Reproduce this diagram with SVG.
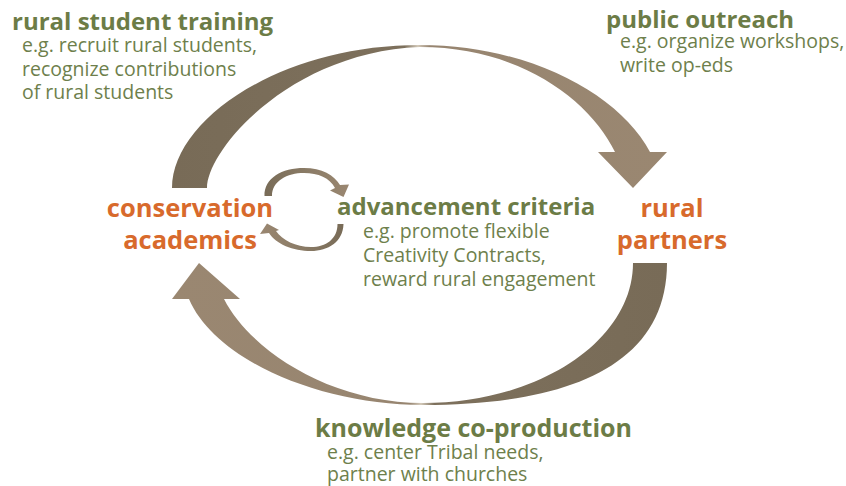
<svg xmlns="http://www.w3.org/2000/svg" width="846" height="486" viewBox="0 0 846 486">
<style>
text{font-family:"Open Sans",Lato,"Liberation Sans",sans-serif}
.t{font-weight:bold;font-size:24px;fill:#6c7c46}
.b{font-size:19.5px;fill:#6e7f4c}
.o{font-weight:bold;font-size:25.5px;fill:#d86a2c}
.k{font-size:25px}
</style>
<defs>
<linearGradient id="gTop" gradientUnits="userSpaceOnUse" x1="172" y1="0" x2="667" y2="0">
<stop offset="0" stop-color="#786b57"/><stop offset="0.47" stop-color="#7d705c"/><stop offset="0.497" stop-color="#d2c8b8"/><stop offset="0.52" stop-color="#978570"/><stop offset="1" stop-color="#9a8771"/>
</linearGradient>
<linearGradient id="gBot" gradientUnits="userSpaceOnUse" x1="667" y1="0" x2="172" y2="0">
<stop offset="0" stop-color="#786b57"/><stop offset="0.47" stop-color="#7d705c"/><stop offset="0.497" stop-color="#d2c8b8"/><stop offset="0.52" stop-color="#978570"/><stop offset="1" stop-color="#9a8771"/>
</linearGradient>
<linearGradient id="gsTop" gradientUnits="userSpaceOnUse" x1="264" y1="0" x2="349" y2="0">
<stop offset="0" stop-color="#786b57"/><stop offset="0.5" stop-color="#8a7b66"/><stop offset="1" stop-color="#9a8771"/>
</linearGradient>
<linearGradient id="gsBot" gradientUnits="userSpaceOnUse" x1="344" y1="0" x2="260" y2="0">
<stop offset="0" stop-color="#786b57"/><stop offset="0.5" stop-color="#8a7b66"/><stop offset="1" stop-color="#9a8771"/>
</linearGradient>
</defs>
<g id="connectors">
<path id="arrow-top" fill="url(#gTop)" d="M172,188 C172,120 280,45 420,45 C530,45 620,95 650,152 L667,152 L633,188 L598,152 L615,152 C590,100 520,47 420,47 C290,52 207,150 207,188 Z"/>
<path id="arrow-bottom" fill="url(#gBot)" d="M667,263 C667,370 560,405 423,405 C320,405 215,360 189,299 L172,299 L199,263 L240,299 L224,299 C250,350 330,403 423,403 C540,403 633,340 633,263 Z"/>
<path id="loop-top" fill="url(#gsTop)" d="M264.5,196 C264,178 282,168 304,168 C322,168 334,175 340,185 L349,184.5 L343.5,197 L330,190.5 L335,188 C330,178 318,173 304,173 C287,173 272,181 272,196 Z"/>
<path id="loop-bottom" fill="url(#gsBot)" d="M343.5,224 C343,242 328,251 311,251 C293,251 276,244 269,233 L260,234 L267,223.5 L279,230 L276,231 C282,240 296,247 311,247 C326,247 337.5,239 337.5,224 Z"/>
</g>
<g id="rural-student-training">
<text class="t" x="12" y="30">rural student training</text>
<text class="b" x="22" y="52">e.g. recruit rural students,</text>
<text class="b" x="22" y="76">recognize contributions</text>
<text class="b" x="22" y="99">of rural students</text>
</g>
<g id="public-outreach">
<text class="t" x="606" y="28">public outreach</text>
<text class="b" x="620" y="48">e.g. organize workshops,</text>
<text class="b" x="620" y="72">write op-eds</text>
</g>
<g id="conservation-academics">
<text class="o" x="190" y="217" text-anchor="middle">conservation</text>
<text class="o" x="190" y="249" text-anchor="middle">academics</text>
</g>
<g id="advancement-criteria">
<text class="t" x="337" y="215">advancement criteria</text>
<text class="b" x="363" y="238">e.g. promote flexible</text>
<text class="b" x="363" y="262">Creativity Contracts,</text>
<text class="b" x="363" y="286">reward rural engagement</text>
</g>
<g id="rural-partners">
<text class="o" x="672" y="217" text-anchor="middle">rural</text>
<text class="o" x="672" y="249" text-anchor="middle">partners</text>
</g>
<g id="knowledge-co-production">
<text class="t k" x="315" y="437">knowledge co-production</text>
<text class="b" x="327" y="459">e.g. center Tribal needs,</text>
<text class="b" x="327" y="481">partner with churches</text>
</g>
</svg>
